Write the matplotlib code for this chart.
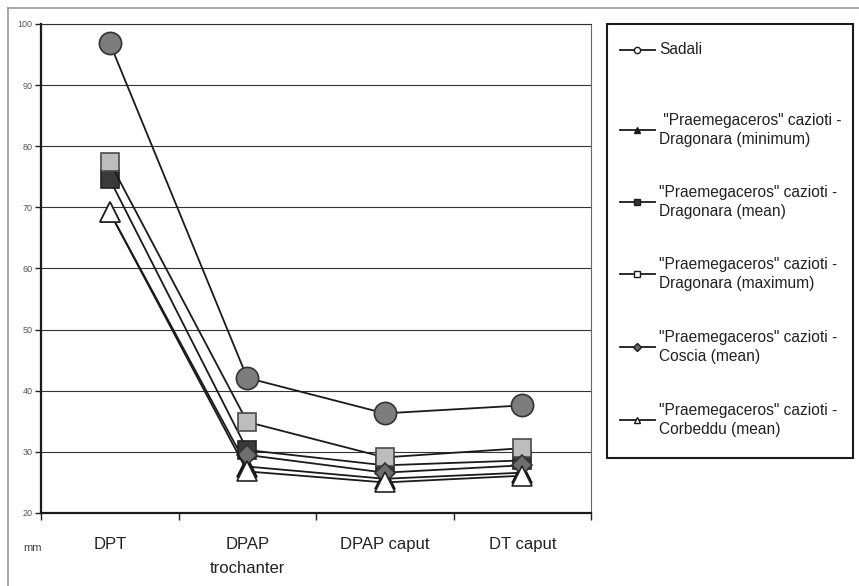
import numpy as np
import matplotlib

matplotlib.use("Agg")

import matplotlib.pyplot as plt
from matplotlib.lines import Line2D
from matplotlib.patches import Rectangle

W, H = 859, 586

categories = ["DPT", "DPAP\ntrochanter", "DPAP caput", "DT caput"]
sadali = [96.9, 42.1, 36.3, 37.6]
dragonara_min = [69.2, 27.6, 25.6, 26.6]
dragonara_mean = [74.6, 30.3, 27.8, 28.6]
dragonara_max = [77.4, 34.9, 29.1, 30.6]
coscia_mean = [np.nan, 29.5, 26.6, 27.8]
corbeddu_mean = [69.2, 26.8, 25.0, 26.1]
y_ticks = [20, 30, 40, 50, 60, 70, 80, 90, 100]

legend_labels = [
    "Sadali",
    ' "Praemegaceros" cazioti -\nDragonara (minimum)',
    '"Praemegaceros" cazioti -\nDragonara (mean)',
    '"Praemegaceros" cazioti -\nDragonara (maximum)',
    '"Praemegaceros" cazioti -\nCoscia (mean)',
    '"Praemegaceros" cazioti -\nCorbeddu (mean)',
]

plt.rcParams["font.family"] = ["Liberation Sans", "DejaVu Sans"]


def fx(x):
    return x / W


def fy(y):
    return 1 - y / H


fig = plt.figure(figsize=(W / 100, H / 100), dpi=100)
fig.patch.set_facecolor("white")

# outer frame (top and left edges visible in the scan)
fig.add_artist(Line2D([fx(8), fx(8)], [fy(8), fy(590)], color="#9a9a9a", lw=1.2))
fig.add_artist(Line2D([fx(8), fx(862)], [fy(8), fy(8)], color="#9a9a9a", lw=1.2))

ax = fig.add_axes([fx(41), fy(513), (591 - 41) / W, (513 - 24) / H])
x = np.arange(len(categories)) + 0.5

series = [
    (sadali, "o", 16, "#7d7d7d", "#333333"),
    (dragonara_min, "^", 14, "#1a1a1a", "#111111"),
    (dragonara_mean, "s", 13, "#3a3a3a", "#222222"),
    (dragonara_max, "s", 13, "#bdbdbd", "#4a4a4a"),
    (coscia_mean, "D", 10, "#6e6e6e", "#333333"),
    (corbeddu_mean, "^", 14, "white", "#222222"),
]
for vals, mk, ms, fc, ec in series:
    ax.plot(x, vals, color="#1a1a1a", lw=1.3, marker=mk, markersize=ms,
            markerfacecolor=fc, markeredgecolor=ec, markeredgewidth=1.2)

ax.set_xlim(0, len(categories))
ax.set_ylim(20, 100)
ax.set_yticks(y_ticks)
ax.set_yticklabels([str(t) for t in y_ticks], fontsize=6.5, color="#555555")
ax.tick_params(axis="y", length=4, width=1, pad=2, color="#222222")
ax.yaxis.grid(True, color="#333333", lw=0.8)
ax.set_axisbelow(True)

ax.set_xticks(np.arange(len(categories) + 1), minor=True)
ax.set_xticks(x)
ax.set_xticklabels(categories, fontsize=12, color="#222222", va="top", linespacing=1.75)
ax.tick_params(axis="x", which="major", length=0, pad=17)
ax.tick_params(axis="x", which="minor", length=5, width=1, color="#222222")

for side in ["left", "bottom"]:
    ax.spines[side].set_linewidth(1.6)
    ax.spines[side].set_color("#1a1a1a")
ax.spines["top"].set_linewidth(0.8)
ax.spines["top"].set_color("#333333")
ax.spines["right"].set_linewidth(0.8)
ax.spines["right"].set_color("#666666")

fig.text(fx(33), fy(548), "mm", fontsize=8, color="#444444", ha="center", va="center")

# legend box drawn by hand to match the wide entry spacing
fig.add_artist(Rectangle((fx(607), fy(458)), (853 - 607) / W, (458 - 24) / H,
                         transform=fig.transFigure, fill=False, ec="#1a1a1a", lw=1.5))
legend_y = [50, 130, 202, 274, 347, 420]
legend_markers = [
    ("o", "white"), ("^", "#1a1a1a"), ("s", "#333333"),
    ("s", "white"), ("D", "#666666"), ("^", "white"),
]
for ly, (mk, fc), label in zip(legend_y, legend_markers, legend_labels):
    fig.add_artist(Line2D([fx(620), fx(655)], [fy(ly), fy(ly)], color="#1a1a1a", lw=1.3))
    fig.add_artist(Line2D([fx(637)], [fy(ly)], marker=mk, markersize=4.5,
                          markerfacecolor=fc, markeredgecolor="#1a1a1a", markeredgewidth=1))
    fig.text(fx(659), fy(ly), label, fontsize=11.2, color="#222222", va="center",
             linespacing=1.35)

fig.savefig("out.png", dpi=100)
